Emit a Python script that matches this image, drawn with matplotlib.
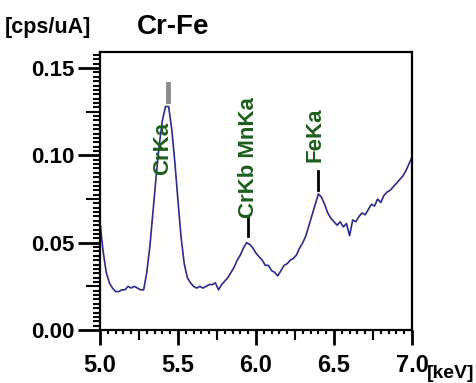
import matplotlib
matplotlib.use("Agg")
import matplotlib.pyplot as plt
from matplotlib.ticker import MultipleLocator, FormatStrFormatter

# ── Data ───────────────────────────────────────────────────────────────────────
energy = [5.00, 5.02, 5.04, 5.06, 5.08, 5.10, 5.12, 5.14, 5.16, 5.18,
          5.20, 5.22, 5.24, 5.26, 5.28, 5.30, 5.32, 5.34, 5.36, 5.38,
          5.40, 5.42, 5.44, 5.46, 5.48, 5.50, 5.52, 5.54, 5.56, 5.58,
          5.60, 5.62, 5.64, 5.66, 5.68, 5.70, 5.72, 5.74, 5.76, 5.78,
          5.80, 5.82, 5.84, 5.86, 5.88, 5.90, 5.92, 5.94, 5.96, 5.98,
          6.00, 6.02, 6.04, 6.06, 6.08, 6.10, 6.12, 6.14, 6.16, 6.18,
          6.20, 6.22, 6.24, 6.26, 6.28, 6.30, 6.32, 6.34, 6.36, 6.38,
          6.40, 6.42, 6.44, 6.46, 6.48, 6.50, 6.52, 6.54, 6.56, 6.58,
          6.60, 6.62, 6.64, 6.66, 6.68, 6.70, 6.72, 6.74, 6.76, 6.78,
          6.80, 6.82, 6.84, 6.86, 6.88, 6.90, 6.92, 6.94, 6.96, 6.98,
          7.00]
counts = [0.062, 0.045, 0.033, 0.027, 0.024, 0.022, 0.022, 0.023, 0.023, 0.025,
          0.024, 0.025, 0.024, 0.023, 0.023, 0.033, 0.048, 0.068, 0.088, 0.106,
          0.120, 0.128, 0.128, 0.115, 0.096, 0.074, 0.053, 0.038, 0.030, 0.027,
          0.025, 0.024, 0.025, 0.024, 0.025, 0.026, 0.026, 0.027, 0.023, 0.026,
          0.028, 0.030, 0.033, 0.036, 0.040, 0.043, 0.047, 0.050, 0.049, 0.047,
          0.044, 0.042, 0.040, 0.037, 0.037, 0.034, 0.033, 0.031, 0.034, 0.037,
          0.038, 0.040, 0.041, 0.043, 0.047, 0.050, 0.054, 0.060, 0.066, 0.072,
          0.078, 0.076, 0.072, 0.067, 0.064, 0.062, 0.060, 0.062, 0.059, 0.061,
          0.054, 0.063, 0.062, 0.065, 0.067, 0.066, 0.069, 0.072, 0.071, 0.075,
          0.073, 0.077, 0.079, 0.080, 0.082, 0.084, 0.086, 0.088, 0.091, 0.095,
          0.099]

peak_names = ["CrKa", "CrKb MnKa", "FeKa"]
peak_energy = [5.41, 5.95, 6.40]

plt.rcParams["font.family"] = ["Liberation Sans", "DejaVu Sans"]
plt.rcParams["font.weight"] = "bold"

C_LINE = "#2b2b8c"
C_LABEL = "#1d5e1d"

fig = plt.figure(figsize=(4.77, 3.83), dpi=100)
ax = fig.add_axes([0.2096, 0.1384, 0.6541, 0.7258])

ax.plot(energy, counts, color=C_LINE, lw=1.2)

ax.set_xlim(5.0, 7.0)
ax.set_ylim(0, 0.1592)

# ── Axes styling ───────────────────────────────────────────────────────────────
for s in ax.spines.values():
    s.set_linewidth(1.6)

ax.xaxis.set_major_locator(MultipleLocator(0.5))
ax.xaxis.set_minor_locator(MultipleLocator(0.05))
ax.yaxis.set_major_locator(MultipleLocator(0.05))
ax.yaxis.set_minor_locator(MultipleLocator(0.0025))
ax.xaxis.set_major_formatter(FormatStrFormatter("%.1f"))
ax.yaxis.set_major_formatter(FormatStrFormatter("%.2f"))

ax.tick_params(axis="x", which="major", direction="out", length=11, width=2,
               pad=6, labelsize=17)
ax.tick_params(axis="y", which="major", direction="out", length=16, width=2,
               pad=2, labelsize=16)
ax.tick_params(axis="x", which="minor", direction="out", length=3, width=1.5)
ax.tick_params(axis="y", which="minor", direction="out", length=5, width=1.5)

# medium ticks at the half-way points
fig.canvas.draw()
for tick, loc in zip(ax.xaxis.get_minor_ticks(), ax.xaxis.get_minorticklocs()):
    if abs((loc - 5.0) / 0.25 - round((loc - 5.0) / 0.25)) < 1e-6:
        tick.tick1line.set_markersize(7)
for tick, loc in zip(ax.yaxis.get_minor_ticks(), ax.yaxis.get_minorticklocs()):
    if abs(loc / 0.025 - round(loc / 0.025)) < 1e-6:
        tick.tick1line.set_markersize(10)

# ── Peak labels ────────────────────────────────────────────────────────────────
ax.plot([peak_energy[0] + 0.025] * 2, [0.131, 0.141], color="#8a8a8a", lw=3.5)
ax.text(peak_energy[0] - 0.01, 0.104, peak_names[0], rotation=90, ha="center",
        va="center", color=C_LABEL, fontsize=16, fontweight="bold")

ax.plot([peak_energy[1]] * 2, [0.054, 0.064], color="black", lw=2)
ax.text(peak_energy[1], 0.099, peak_names[1], rotation=90, ha="center",
        va="center", color=C_LABEL, fontsize=16, fontweight="bold")

ax.plot([peak_energy[2]] * 2, [0.080, 0.091], color="black", lw=2)
ax.text(peak_energy[2] - 0.02, 0.112, peak_names[2], rotation=90, ha="center",
        va="center", color=C_LABEL, fontsize=16, fontweight="bold")

# ── Titles / units ─────────────────────────────────────────────────────────────
fig.text(5 / 477, 1 - 27 / 383, "[cps/uA]", ha="left", va="center",
         fontsize=15.5, fontweight="bold")
fig.text(137 / 477, 1 - 27 / 383, "Cr-Fe", ha="left", va="center",
         fontsize=20, fontweight="bold")
fig.text(427 / 477, 1 - 374 / 383, "[keV]", ha="left", va="center",
         fontsize=14, fontweight="bold")

fig.savefig("out.png", dpi=100, facecolor="white")
